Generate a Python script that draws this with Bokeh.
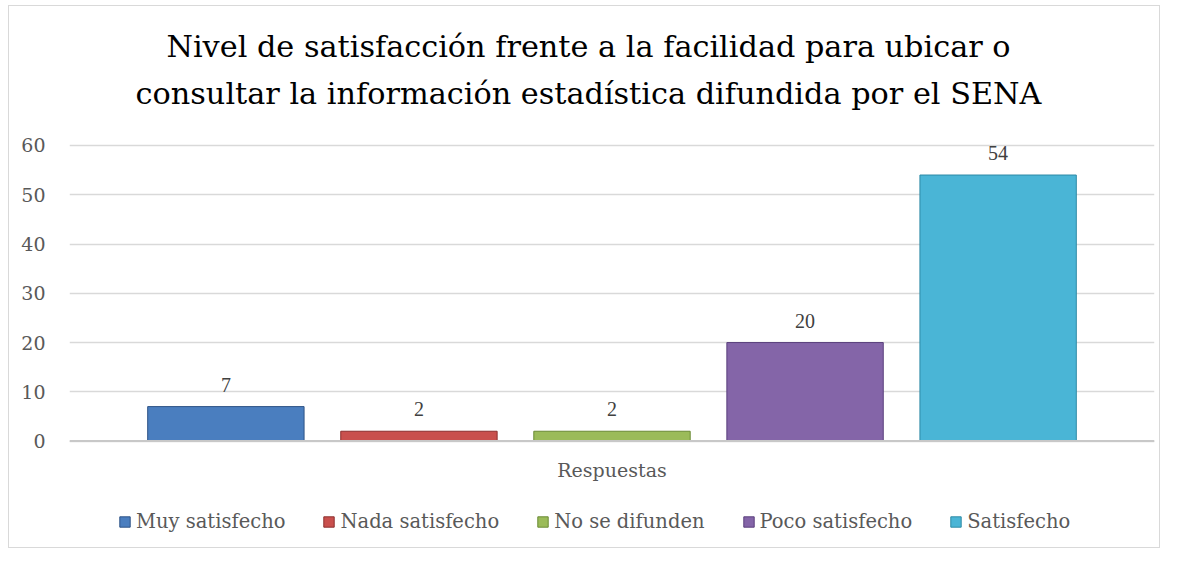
from bokeh.plotting import figure
from bokeh.models import (ColumnDataSource, Range1d, FixedTicker, LabelSet, Legend,
                          LegendItem, Label, Span)
from bokeh.embed import file_html
from bokeh.resources import INLINE

categories = ["Muy satisfecho", "Nada satisfecho", "No se difunden", "Poco satisfecho", "Satisfecho"]
values = [7, 2, 2, 20, 54]
colors = ["#4a7ebf", "#c9504d", "#9bbb59", "#8465a8", "#4ab5d6"]
edges = ["#2e5386", "#8c2f2d", "#6a8a34", "#5a3f7c", "#2d8aa6"]
title_lines = ["Nivel de satisfacción frente a la facilidad para ubicar o",
               "consultar la información estadística difundida por el SENA"]
y_ticks = [0, 10, 20, 30, 40, 50, 60]
x_label = "Respuestas"

FONT = "DejaVu Serif"
GREY = "#595959"

src = ColumnDataSource(dict(x=list(range(len(categories))), top=values, cat=categories,
                            color=colors, edge=edges, lbl=[str(v) for v in values]))

p = figure(width=1152, height=543, output_backend="svg", toolbar_location=None,
           x_range=Range1d(-0.81, len(categories) - 1 + 0.81), y_range=Range1d(-22, 88.2),
           min_border_left=60, min_border_right=7, min_border_top=0, min_border_bottom=0,
           margin=(5, 0, 0, 8))
p.styles = {"border": "1px solid #d9d9d9", "box-sizing": "border-box"}
p.outline_line_color = None
p.background_fill_color = "white"
p.border_fill_color = "white"

for line, ys in zip(title_lines, [503, 456]):
    p.add_layout(Label(x=519, y=ys, x_units="screen", y_units="screen", text=line,
                       text_align="center", text_baseline="middle", text_font=FONT,
                       text_font_size="30.3px", text_color="#000000"))

p.ygrid.grid_line_color = "#d9d9d9"
p.ygrid.grid_line_width = 1.5
p.ygrid.ticker = FixedTicker(ticks=y_ticks)
p.xgrid.grid_line_color = None

p.add_layout(Span(location=0, dimension="width", line_color="#c8c8c8", line_width=2))

r = p.vbar(x="x", top="top", bottom=0, width=0.81, source=src, fill_color="color",
           line_color="edge", line_width=1)

labels = LabelSet(x="x", y="top", text="lbl", source=src, text_align="center",
                  text_baseline="bottom", y_offset=15, text_font=FONT,
                  text_font_size="20px", text_color="#404040")
p.add_layout(labels)

p.yaxis.ticker = FixedTicker(ticks=y_ticks)
p.yaxis.axis_line_color = None
p.yaxis.major_tick_line_color = None
p.yaxis.minor_tick_line_color = None
p.yaxis.major_label_text_font = FONT
p.yaxis.major_label_text_font_size = "19px"
p.yaxis.major_label_text_color = GREY
p.yaxis.major_label_standoff = 18

p.xaxis.visible = False

p.add_layout(Label(x=(len(categories) - 1) / 2, y=0, y_offset=-29, text=x_label,
                   text_align="center", text_baseline="middle", text_font=FONT,
                   text_font_size="19px", text_color=GREY))

legend = Legend(items=[LegendItem(label=c, renderers=[r], index=i) for i, c in enumerate(categories)],
                orientation="horizontal", location=(49, 16), border_line_color=None,
                background_fill_alpha=0, label_text_font=FONT, label_text_font_size="19.5px",
                label_text_color=GREY, glyph_width=13, glyph_height=13, spacing=37,
                label_standoff=5, margin=0, padding=0)
p.add_layout(legend)

open("out.html", "w").write(file_html(p, INLINE))
